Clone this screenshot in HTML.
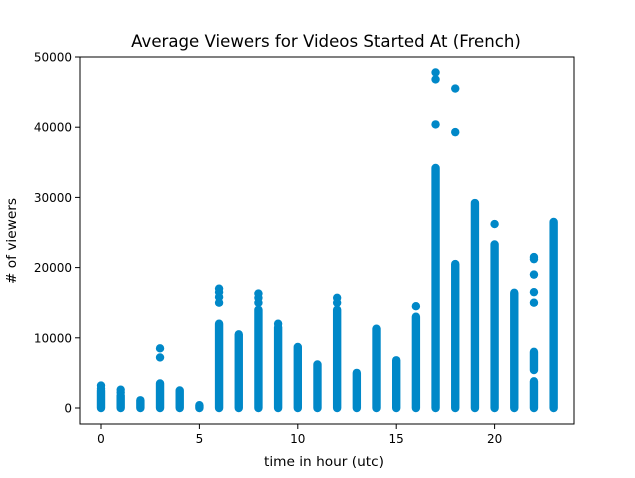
<!DOCTYPE html>
<html><head><meta charset="utf-8"><style>
html,body{margin:0;padding:0;background:#fff}
svg{display:block;font-family:"DejaVu Sans","Liberation Sans",sans-serif}
</style></head><body>
<svg id="chart" width="635" height="478" viewBox="0 0 635 478" xmlns="http://www.w3.org/2000/svg">
<rect x="0" y="0" width="635" height="478" fill="#fff"/>
<text x="326" y="47" font-size="16.6" text-anchor="middle" fill="#000">Average Viewers for Videos Started At (French)</text>
<g id="marks"></g>
<g id="axes"></g>
<text x="324" y="466" font-size="13.7" text-anchor="middle">time in hour (utc)</text>
<text x="16" y="241" font-size="13.7" text-anchor="middle" transform="rotate(-90 16 241)"># of viewers</text>
</svg>
<script>
// dense column segments (hour, low, high in viewers)
const segHour = [0,1,2,3,4,5,6,7,8,9,10,11,12,13,14,15,16,17,18,19,20,21,22,22,23];
const segLo   = [0,0,0,0,0,0,0,0,0,0,0,0,0,0,0,0,0,0,0,0,0,0,0,5400,0];
const segHi   = [2500,1800,1100,3500,2500,400,12000,10500,14000,11500,8700,6200,14000,5000,11300,6800,13000,34200,20500,29200,23300,16400,3800,8000,26500];
// individual outlier points
const ptHour = [0,0,1,1,3,3,6,6,6,6,8,8,8,9,12,12,16,17,17,17,18,18,20,22,22,22,22,22];
const ptVal  = [3200,2800,2600,2200,7200,8500,15000,15800,16500,17000,15000,15700,16300,12000,15000,15700,14500,40400,46800,47800,39300,45500,26200,15000,16500,19000,21200,21500];
const xTicks = [0,5,10,15,20];
const yTicks = [0,10000,20000,30000,40000,50000];

const L=80,R=574,T=57,B=424;
const X=h=>101+h*19.68;
const Y=v=>408-v*0.00702;
const NS='http://www.w3.org/2000/svg';
const C='#0088c8', r=4.2;
const marks=document.getElementById('marks');
for(let i=0;i<segHour.length;i++){
  const el=document.createElementNS(NS,'line');
  
  
  const x=X(segHour[i]);
  el.setAttribute('x1',x);el.setAttribute('x2',x);
  el.setAttribute('y1',Y(segLo[i]));el.setAttribute('y2',Y(segHi[i]));
  el.setAttribute('stroke',C);el.setAttribute('stroke-width',2*r);el.setAttribute('stroke-linecap','round');
  marks.appendChild(el);
}
for(let i=0;i<ptHour.length;i++){
  const el=document.createElementNS(NS,'circle');
  
  
  el.setAttribute('cx',X(ptHour[i]));el.setAttribute('cy',Y(ptVal[i]));el.setAttribute('r',r);el.setAttribute('fill',C);
  marks.appendChild(el);
}
const ax=document.getElementById('axes');
const frame=document.createElementNS(NS,'rect');


frame.setAttribute('x',L);frame.setAttribute('y',T);frame.setAttribute('width',R-L);frame.setAttribute('height',B-T);
frame.setAttribute('fill','none');frame.setAttribute('stroke','#000');frame.setAttribute('stroke-width','1');
ax.appendChild(frame);
xTicks.forEach(t=>{
  const x=X(t);
  const l=document.createElementNS(NS,'line');
  
  
  l.setAttribute('x1',x);l.setAttribute('x2',x);l.setAttribute('y1',B);l.setAttribute('y2',B+5);l.setAttribute('stroke','#000');
  ax.appendChild(l);
  const tx=document.createElementNS(NS,'text');
  
  
  tx.setAttribute('x',x);tx.setAttribute('y',B+19);tx.setAttribute('font-size','12');tx.setAttribute('text-anchor','middle');
  tx.textContent=t;ax.appendChild(tx);
});
yTicks.forEach(t=>{
  const y=Y(t);
  const l=document.createElementNS(NS,'line');
  
  
  l.setAttribute('x1',L-5);l.setAttribute('x2',L);l.setAttribute('y1',y);l.setAttribute('y2',y);l.setAttribute('stroke','#000');
  ax.appendChild(l);
  const tx=document.createElementNS(NS,'text');
  
  
  tx.setAttribute('x',L-8);tx.setAttribute('y',y+4.5);tx.setAttribute('font-size','12');tx.setAttribute('text-anchor','end');
  tx.textContent=t;ax.appendChild(tx);
});
</script>
</body></html>
